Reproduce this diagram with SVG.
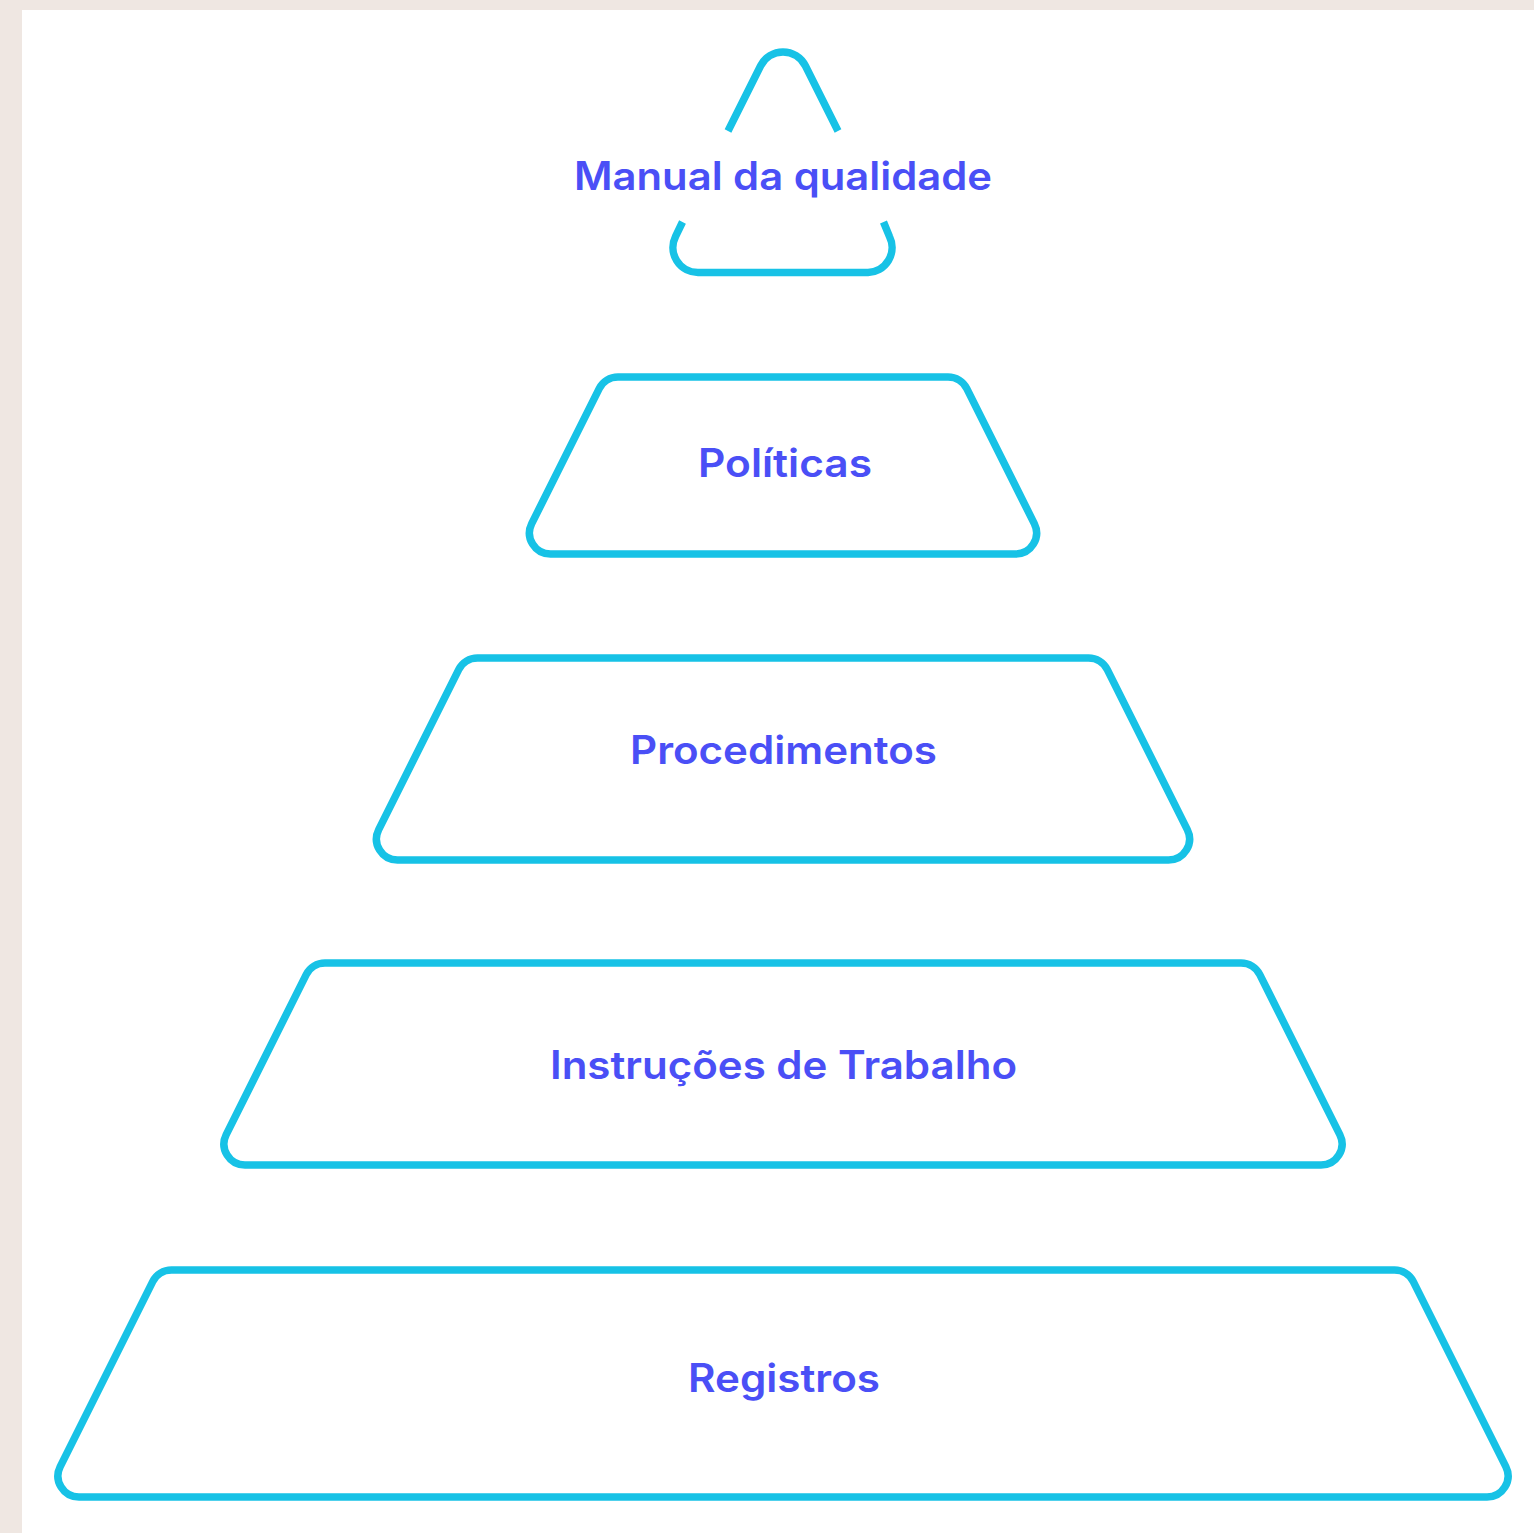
<svg xmlns="http://www.w3.org/2000/svg" width="1534" height="1533" viewBox="0 0 1534 1533">
  <style>
    .outline { fill: none; stroke: #17c2e6; stroke-width: 7.5; stroke-linecap: butt; stroke-linejoin: round; }
    .label { font-family: Inter, "Noto Sans", "Liberation Sans", sans-serif; font-size: 39px; font-weight: 600; fill: #4a4ff6; text-anchor: middle; }
  </style>
  <!-- page background and white panel -->
  <rect x="0" y="0" width="1534" height="1533" fill="#efe7e2"/>
  <rect x="22" y="10" width="1512" height="1523" fill="#ffffff"/>

  <!-- apex: triangle broken around its label -->
  <g id="manual-da-qualidade">
    <path class="outline" d="M 728 131 L 760.64 65.72 A 25 25 0 0 1 805.36 65.72 L 838 131"/>
    <path class="outline" d="M 682.5 222 L 675.59 236.32 A 25 25 0 0 0 697.95 272.5 H 868.05 A 25 25 0 0 0 889.41 236.32 L 883.5 222"/>
    <text class="label" x="783" y="190" textLength="418" lengthAdjust="spacingAndGlyphs">Manual da qualidade</text>
  </g>

  <g id="politicas">
    <path class="outline" d="M 617.98 377 H 948.02 A 21 21 0 0 1 966.80 388.61 L 1034.30 523.61 A 21 21 0 0 1 1015.52 554 H 550.48 A 21 21 0 0 1 531.70 523.61 L 599.20 388.61 A 21 21 0 0 1 617.98 377 Z"/>
    <text class="label" x="785" y="477" textLength="174" lengthAdjust="spacingAndGlyphs">Políticas</text>
  </g>

  <g id="procedimentos">
    <path class="outline" d="M 477.48 658 H 1088.52 A 21 21 0 0 1 1107.30 669.61 L 1187.30 829.61 A 21 21 0 0 1 1168.52 860 H 397.48 A 21 21 0 0 1 378.70 829.61 L 458.70 669.61 A 21 21 0 0 1 477.48 658 Z"/>
    <text class="label" x="783.5" y="764" textLength="307" lengthAdjust="spacingAndGlyphs">Procedimentos</text>
  </g>

  <g id="instrucoes-de-trabalho">
    <path class="outline" d="M 324.98 963 H 1241.02 A 21 21 0 0 1 1259.80 974.61 L 1339.80 1134.61 A 21 21 0 0 1 1321.02 1165 H 244.98 A 21 21 0 0 1 226.20 1134.61 L 306.20 974.61 A 21 21 0 0 1 324.98 963 Z"/>
    <text class="label" x="783.5" y="1079" textLength="467" lengthAdjust="spacingAndGlyphs">Instruções de Trabalho</text>
  </g>

  <g id="registros">
    <path class="outline" d="M 171.48 1270 H 1394.52 A 21 21 0 0 1 1413.30 1281.61 L 1505.80 1466.61 A 21 21 0 0 1 1487.02 1497 H 78.98 A 21 21 0 0 1 60.20 1466.61 L 152.70 1281.61 A 21 21 0 0 1 171.48 1270 Z"/>
    <text class="label" x="784" y="1392" textLength="192" lengthAdjust="spacingAndGlyphs">Registros</text>
  </g>

  <!-- no connectors in this pyramid -->
  <g id="connectors"/>
</svg>
